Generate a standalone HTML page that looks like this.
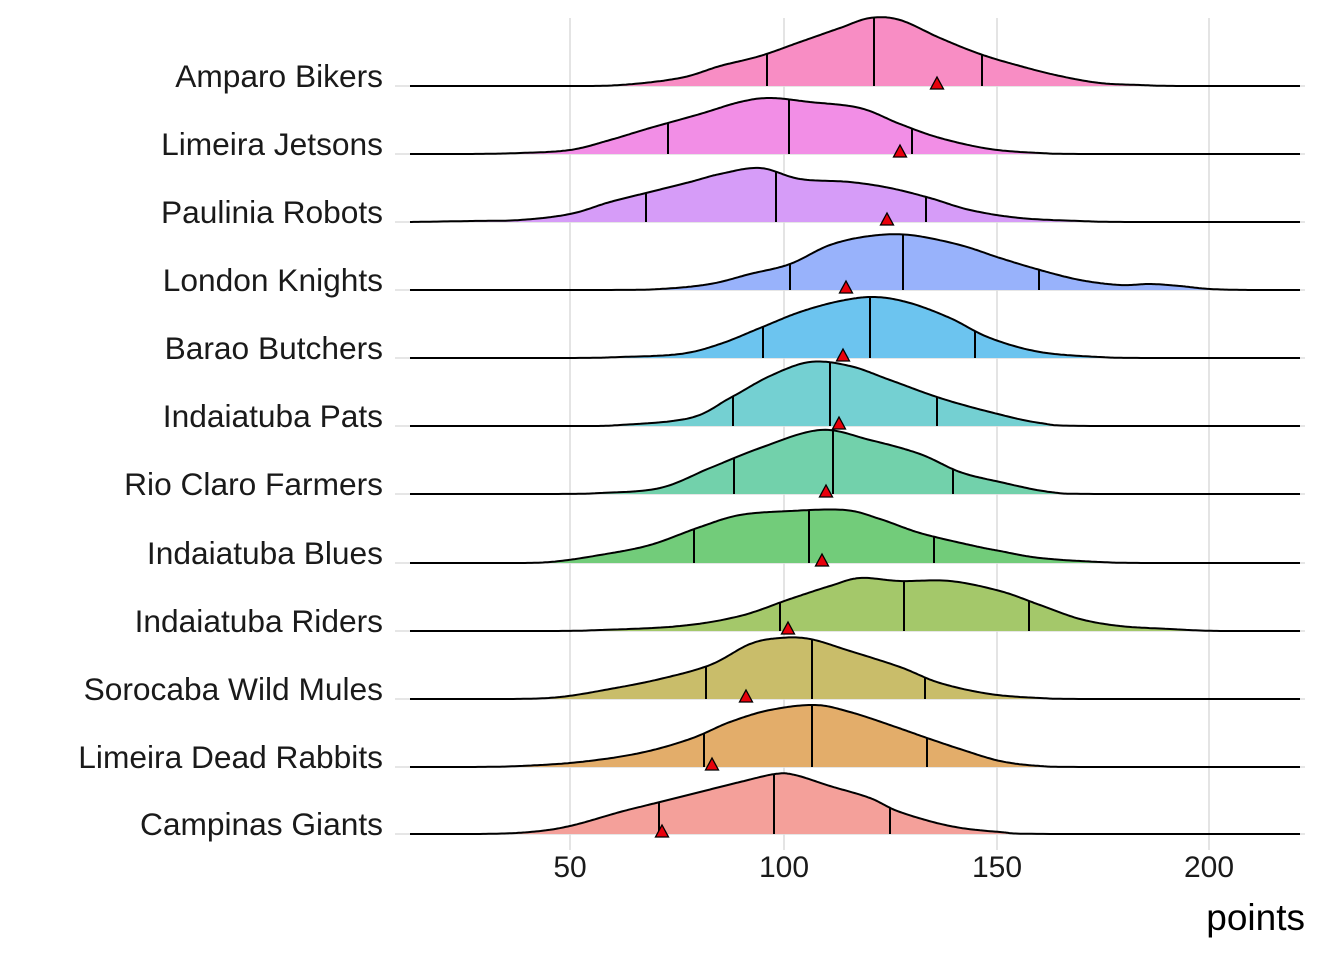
<!DOCTYPE html>
<html><head><meta charset="utf-8"><style>
html,body{margin:0;padding:0;background:#fff;}
svg{display:block;font-family:"Liberation Sans",Arial,sans-serif;}
</style></head><body>
<svg id="s" width="1344" height="960" viewBox="0 0 1344 960" xmlns="http://www.w3.org/2000/svg">
<g stroke="#dedede" stroke-width="1.6">
<line x1="570" y1="18" x2="570" y2="850"/><line x1="784" y1="18" x2="784" y2="850"/>
<line x1="997" y1="18" x2="997" y2="850"/><line x1="1209" y1="18" x2="1209" y2="850"/>
</g>
<g id="hg" stroke="#dedede" stroke-width="1.6"></g>
<g id="ridges"></g>
<g font-size="30" fill="#1a1a1a" text-anchor="middle">
<text x="570" y="877">50</text><text x="784" y="877">100</text><text x="997" y="877">150</text><text x="1209" y="877">200</text>
</g>
<text x="1305" y="930" font-size="37" text-anchor="end" fill="#000">points</text>
<g id="labels" font-size="31.7" fill="#1a1a1a" text-anchor="end"></g>
</svg>
<script>
var R=[
["Amparo Bikers",86,"#f88dc4",[[410,0],[560,0],[620,-1],[680,-8],[720,-20],[760,-30],[800,-44],[840,-58],[870,-68],[900,-66],[940,-48],[980,-32],[1020,-20],[1060,-10],[1100,-3],[1140,-1],[1180,0],[1300,0]],[767,874,982],937],
["Limeira Jetsons",154,"#f28ee6",[[410,0],[470,0],[520,-1],[570,-4],[610,-14],[650,-26],[700,-40],[740,-52],[770,-56],[810,-52],[860,-46],[900,-30],[940,-16],[990,-5],[1040,-1],[1090,0],[1300,0]],[668,789,912],900],
["Paulinia Robots",222,"#d69cf8",[[410,0],[470,-1],[520,-2],[570,-8],[610,-20],[650,-30],[690,-40],[720,-48],[760,-54],[800,-43],[850,-40],[890,-34],[930,-24],[970,-12],[1020,-4],[1080,-1],[1130,0],[1300,0]],[646,776,926],887],
["London Knights",290,"#98b2fb",[[410,0],[600,0],[660,-1],[710,-6],[750,-16],[790,-26],[830,-45],[870,-54],[910,-55],[960,-45],[1000,-32],[1040,-20],[1080,-10],[1120,-5],[1150,-6],[1180,-4],[1210,-1],[1250,0],[1300,0]],[790,903,1039],846],
["Barao Butchers",358,"#6cc4ef",[[410,0],[570,0],[620,-1],[680,-4],[720,-14],[760,-30],[800,-46],[840,-57],[875,-61],[910,-55],[950,-40],[990,-20],[1040,-6],[1100,-1],[1150,0],[1300,0]],[763,870,975],843],
["Indaiatuba Pats",426,"#74d0d2",[[410,0],[570,0],[620,-1],[690,-8],[730,-28],[770,-50],[810,-64],[850,-60],[890,-46],[940,-28],[990,-14],[1040,-3],[1090,0],[1300,0]],[733,830,937],839],
["Rio Claro Farmers",494,"#72d1ab",[[410,0],[550,0],[600,-1],[660,-6],[710,-26],[760,-46],[820,-64],[870,-54],[920,-40],[960,-22],[1000,-12],[1050,-2],[1100,0],[1300,0]],[734,833,953],826],
["Indaiatuba Blues",563,"#72cc7a",[[410,0],[500,0],[550,-1],[600,-8],[650,-18],[700,-36],[740,-48],[790,-52],[845,-53],[880,-44],[920,-30],[970,-18],[1000,-12],[1040,-5],[1100,-1],[1150,0],[1300,0]],[694,809,934],822],
["Indaiatuba Riders",631,"#a4c86a",[[410,0],[550,0],[600,-1],[680,-5],[740,-15],[790,-32],[830,-45],[860,-53],[900,-50],[950,-50],[1000,-40],[1040,-26],[1080,-12],[1120,-5],[1170,-2],[1220,0],[1300,0]],[780,904,1029],788],
["Sorocaba Wild Mules",699,"#c9bd6a",[[410,0],[510,0],[560,-2],[610,-10],[660,-20],[710,-34],[750,-55],[780,-61],[810,-60],[850,-48],[900,-32],[940,-16],[990,-5],[1040,-1],[1090,0],[1300,0]],[706,812,925],746],
["Limeira Dead Rabbits",767,"#e3ad6a",[[410,0],[470,0],[520,-1],[580,-5],[640,-14],[690,-28],[730,-45],[770,-57],[815,-62],[850,-55],[890,-42],[930,-28],[960,-18],[1000,-6],[1040,-1],[1090,0],[1300,0]],[704,812,927],712],
["Campinas Giants",834,"#f4a09a",[[410,0],[480,0],[530,-2],[570,-8],[620,-22],[660,-32],[700,-42],[740,-52],[775,-60],[795,-59],[830,-48],[870,-36],[900,-22],[950,-8],[1000,-2],[1050,0],[1300,0]],[659,774,890],662]
];
var NS="http://www.w3.org/2000/svg",g=document.getElementById("ridges"),hg=document.getElementById("hg"),lb=document.getElementById("labels");
function el(t,a,p){var e=document.createElementNS(NS,t);for(var k in a)e.setAttribute(k,a[k]);p.appendChild(e);return e;}
R.forEach(function(r){
 var b=r[1],P=r[3],S=[];
 el("line",{x1:395,x2:1305,y1:b,y2:b},hg);
 for(var i=0;i<P.length-1;i++){
  var p0=P[Math.max(i-1,0)],p1=P[i],p2=P[i+1],p3=P[Math.min(i+2,P.length-1)];
  for(var t=0;t<1;t+=0.05){
   var t2=t*t,t3=t2*t;
   var cr=function(a,b,c,d){return 0.5*((2*b)+(-a+c)*t+(2*a-5*b+4*c-d)*t2+(-a+3*b-3*c+d)*t3);};
   S.push([cr(p0[0],p1[0],p2[0],p3[0]),Math.min(0,cr(p0[1],p1[1],p2[1],p3[1]))]);
  }
 }
 S.push(P[P.length-1]);
 var d="M"+S.map(function(p){return p[0].toFixed(1)+","+(b+p[1]).toFixed(1);}).join("L");
 el("path",{d:d+"Z",fill:r[2],stroke:"none"},g);
 function hAt(x){for(var i=0;i<S.length-1;i++){if(S[i][0]<=x&&S[i+1][0]>=x){var f=(x-S[i][0])/(S[i+1][0]-S[i][0]||1);return S[i][1]+f*(S[i+1][1]-S[i][1]);}}return 0;}
 r[4].forEach(function(x){el("line",{x1:x,x2:x,y1:b,y2:b+hAt(x),stroke:"#000","stroke-width":2},g);});
 el("path",{d:d,fill:"none",stroke:"#000","stroke-width":2},g);
 var tx=r[5],ty=b-1;
 el("polygon",{points:(tx-6.5)+","+(ty+4)+" "+(tx+6.5)+","+(ty+4)+" "+tx+","+(ty-8),fill:"#e8000b",stroke:"#000","stroke-width":1.3},g);
 var tt=el("text",{x:383,y:b+1},lb);tt.textContent=r[0];
});
</script>
</body></html>
